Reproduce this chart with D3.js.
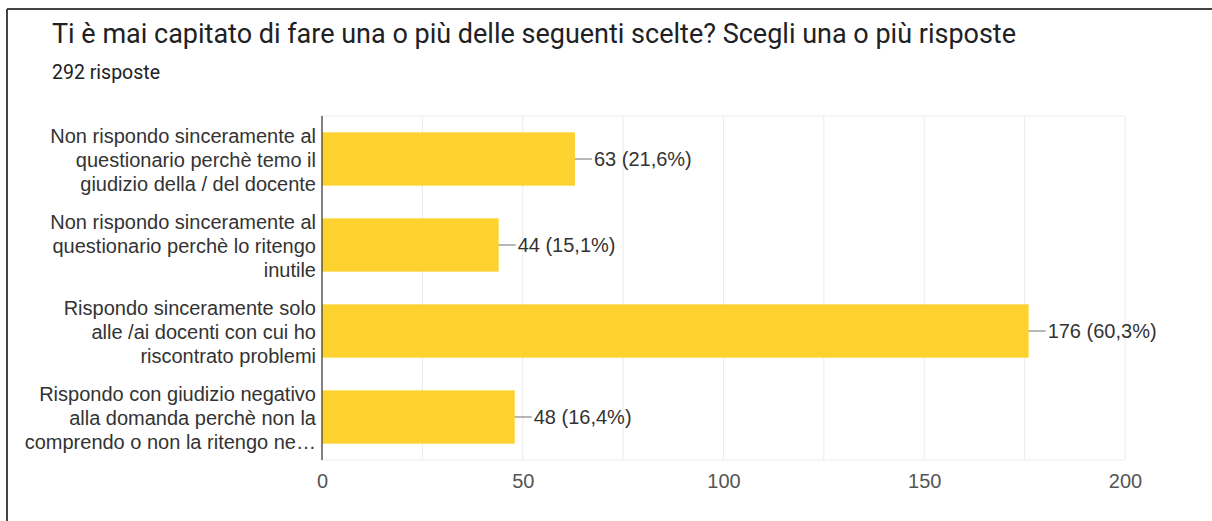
<!DOCTYPE html>
<html>
<head>
<meta charset="utf-8">
<script src="https://cdn.jsdelivr.net/npm/d3@7"></script>
<style>
  html, body { margin: 0; padding: 0; background: #fff; }
  svg { display: block; }
</style>
</head>
<body>
<svg id="chart" width="1212" height="521"></svg>
<script>
// Survey question and response count
const title = "Ti è mai capitato di fare una o più delle seguenti scelte? Scegli una o più risposte";
const subtitle = "292 risposte";

// Answer options (already wrapped into lines) and their counts
const categories = [
  ["Non rispondo sinceramente al", "questionario perchè temo il", "giudizio della / del docente"],
  ["Non rispondo sinceramente al", "questionario perchè lo ritengo", "inutile"],
  ["Rispondo sinceramente solo", "alle /ai docenti con cui ho", "riscontrato problemi"],
  ["Rispondo con giudizio negativo", "alla domanda perchè non la", "comprendo o non la ritengo ne…"]
];
const counts = [63, 44, 176, 48];
const percents = ["21,6%", "15,1%", "60,3%", "16,4%"];
const tickValues = [0, 50, 100, 150, 200];
const gridValues = [0, 25, 50, 75, 100, 125, 150, 175, 200];

const svg = d3.select("#chart");
const sans = "'Liberation Sans', Arial, sans-serif";

// Card frame (top and left edges)
svg.append("line").attr("x1", 7).attr("x2", 1212).attr("y1", 9).attr("y2", 9)
  .attr("stroke", "#444").attr("stroke-width", 2);
svg.append("line").attr("x1", 7).attr("x2", 7).attr("y1", 9).attr("y2", 521)
  .attr("stroke", "#444").attr("stroke-width", 2);

svg.append("text").attr("x", 52).attr("y", 43)
  .attr("font-family", "Roboto, sans-serif").attr("font-size", 27)
  .attr("fill", "#202124").text(title);
svg.append("text").attr("x", 52).attr("y", 79)
  .attr("font-family", "Roboto, sans-serif").attr("font-size", 19.5)
  .attr("fill", "#202124").text(subtitle);

const plot = { left: 322, right: 1125, top: 116, bottom: 460 };

const x = d3.scaleLinear().domain([0, 200]).range([plot.left, plot.right]);
const y = d3.scaleBand().domain(d3.range(counts.length))
  .range([plot.top, plot.bottom]).paddingInner(0.38).paddingOuter(0.19);

// Plot background grid
const g = svg.append("g");
g.selectAll("line.grid").data(gridValues).join("line")
  .attr("class", "grid")
  .attr("x1", d => x(d)).attr("x2", d => x(d))
  .attr("y1", plot.top).attr("y2", plot.bottom)
  .attr("stroke", "#ebebeb").attr("stroke-width", 1);
g.append("line").attr("x1", plot.left).attr("x2", plot.right)
  .attr("y1", plot.top).attr("y2", plot.top).attr("stroke", "#ebebeb");
g.append("line").attr("x1", plot.left).attr("x2", plot.right)
  .attr("y1", plot.bottom).attr("y2", plot.bottom).attr("stroke", "#ebebeb");

// Bars
g.selectAll("rect.bar").data(counts).join("rect")
  .attr("class", "bar")
  .attr("x", x(0))
  .attr("y", (d, i) => y(i))
  .attr("width", d => x(d) - x(0))
  .attr("height", y.bandwidth())
  .attr("fill", "#fdd22f");

// Value labels with leader lines
counts.forEach((d, i) => {
  const cy = y(i) + y.bandwidth() / 2;
  g.append("line").attr("x1", x(d)).attr("x2", x(d) + 17)
    .attr("y1", cy).attr("y2", cy).attr("stroke", "#888").attr("stroke-width", 1.2);
  g.append("text").attr("x", x(d) + 19).attr("y", cy)
    .attr("dy", "0.36em")
    .attr("font-family", sans).attr("font-size", 20)
    .attr("fill", "#333").text(`${d} (${percents[i]})`);
});

// Left axis line
g.append("line").attr("x1", plot.left).attr("x2", plot.left)
  .attr("y1", plot.top).attr("y2", plot.bottom)
  .attr("stroke", "#333").attr("stroke-width", 1.2);

// Category labels
categories.forEach((lines, i) => {
  const cy = y(i) + y.bandwidth() / 2;
  const t = g.append("text")
    .attr("text-anchor", "end")
    .attr("font-family", sans).attr("font-size", 20)
    .attr("fill", "#333");
  lines.forEach((ln, k) => {
    t.append("tspan").attr("x", 316)
      .attr("y", cy + (k - (lines.length - 1) / 2) * 24)
      .attr("dy", "0.38em").text(ln);
  });
});

// Bottom tick labels
const xAxis = d3.axisBottom(x).tickValues(tickValues).tickSize(0).tickPadding(0)
  .tickFormat(d3.format("d"));
const ax = svg.append("g").attr("transform", `translate(0, ${plot.bottom + 14})`).call(xAxis);
ax.select(".domain").remove();
ax.selectAll("text")
  .attr("font-family", sans).attr("font-size", 20)
  .attr("fill", "#555");
</script>
</body>
</html>
